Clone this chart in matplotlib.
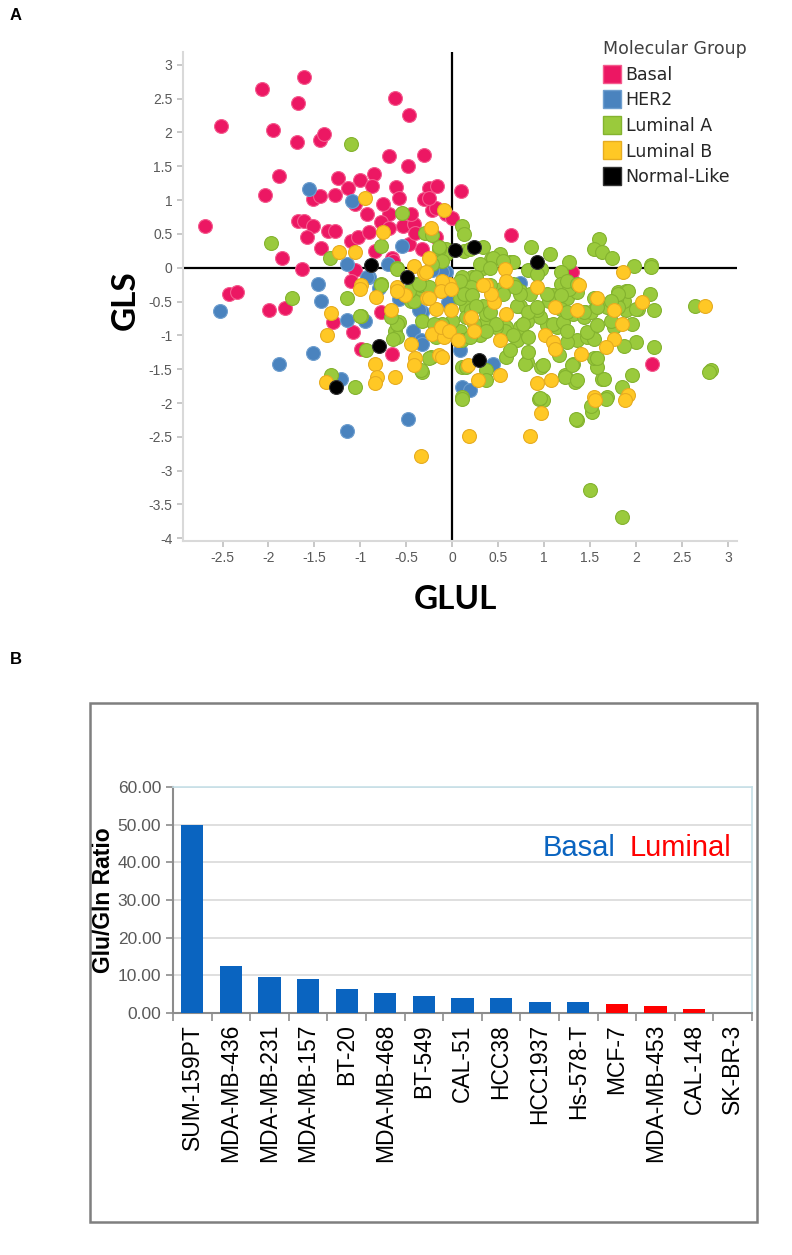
import numpy as np
import matplotlib.pyplot as plt
from matplotlib.lines import Line2D
from matplotlib.patches import Rectangle

plt.rcParams['font.family'] = ['Liberation Sans', 'DejaVu Sans']

# ---- Panel A: GLUL (x) vs GLS (y), one list of (x, y) per molecular group ----
basal = [(-2.69, 0.62), (-2.52, 2.10), (-2.07, 2.64), (-1.61, 2.82), (-1.68, 2.43), (-1.95, 2.03),
         (-1.69, 1.86), (-1.44, 1.89), (-1.40, 1.98), (-1.88, 1.35), (-2.04, 1.08), (-0.62, 2.51),
         (-0.47, 2.26), (-0.69, 1.65), (-0.48, 1.51), (-0.31, 1.67), (-1.24, 1.33), (-1.00, 1.30),
         (-0.85, 1.38), (-0.87, 1.21), (-0.61, 1.20), (-0.58, 1.03), (-1.13, 1.18), (-1.28, 1.08),
         (-1.51, 1.01), (-1.44, 1.06), (-1.06, 0.94), (-0.93, 0.79), (-0.69, 0.79), (-0.25, 1.18),
         (-0.16, 1.21), (-0.31, 1.01), (-0.22, 0.86), (0.10, 1.13), (-1.68, 0.69), (-1.61, 0.69),
         (-1.52, 0.62), (-1.58, 0.46), (-1.35, 0.54), (-1.28, 0.55), (-1.43, 0.29), (-1.10, 0.40),
         (-1.02, 0.45), (-0.91, 0.53), (-0.77, 0.67), (-0.69, 0.59), (-0.53, 0.62), (-0.42, 0.64),
         (-0.66, 0.15), (-0.84, 0.25), (-0.33, 0.28), (-1.85, 0.14), (-1.63, -0.02), (-0.47, 0.35),
         (-0.18, 0.45), (-0.07, 0.79), (0.00, 0.74), (-0.18, 0.89), (-0.25, 1.03), (-0.40, 0.52),
         (-1.06, -0.04), (-1.10, -0.19), (-2.43, -0.39), (-2.34, -0.36), (-1.99, -0.62), (-1.82, -0.60),
         (-0.78, -0.66), (-1.08, -0.95), (-1.30, -0.80), (-0.99, -1.20), (-0.66, -1.27), (-0.64, 0.10),
         (0.64, 0.49), (1.30, -0.07), (2.18, -1.42), (-0.75, 0.95), (-0.45, 0.80)]

her2 = [(-1.56, 1.17), (-1.09, 0.99), (-0.55, 0.32), (-1.14, 0.05), (-0.91, -0.14), (-0.07, -0.07),
        (-2.53, -0.64), (-1.88, -1.43), (-1.52, -1.26), (-1.46, -0.24), (-1.43, -0.49), (-1.15, -0.77),
        (-0.95, -0.78), (-0.93, -0.14), (-0.58, -0.46), (-0.43, -0.93), (-0.34, -1.07), (-1.21, -1.65),
        (-0.48, -2.24), (-1.15, -2.42), (-0.11, -0.07), (0.08, -1.22), (0.11, -1.76), (-0.33, -0.66),
        (0.74, -0.22), (0.44, -1.42), (0.19, -1.81), (-0.22, -0.04), (-0.36, -0.63), (-0.33, -1.12),
        (-0.80, -0.30), (-0.20, -0.35), (-0.05, -0.50), (-0.70, 0.05)]

lum_a = [(-1.10, 1.83), (-1.97, 0.36), (-0.55, 0.81), (-1.33, 0.15), (-0.77, 0.32), (-0.30, 0.52),
         (-0.22, 0.49), (-0.15, 0.15), (-0.07, 0.28), (0.11, 0.62), (0.13, 0.50), (0.13, 0.25),
         (0.19, 0.28), (0.33, 0.30), (0.52, 0.20), (0.42, 0.13), (0.86, 0.30), (1.07, 0.20),
         (1.27, 0.08), (1.60, 0.42), (1.54, 0.28), (1.63, 0.24), (1.74, 0.15), (1.98, 0.03),
         (2.16, 0.04), (0.63, 0.08), (0.44, 0.15), (0.33, 0.00), (0.66, 0.08), (0.55, 0.10),
         (0.83, -0.04), (0.97, -0.02), (1.18, -0.07), (0.22, -0.14), (0.30, -0.24), (0.92, -0.09),
         (0.30, 0.05), (0.41, 0.00), (0.11, -0.14), (0.26, -0.14), (0.21, -0.29), (0.33, -0.26),
         (0.44, -0.39), (0.53, -0.31), (0.66, -0.24), (0.74, -0.34), (0.85, -0.39), (0.74, -0.56),
         (0.90, -0.63), (1.05, -0.49), (1.18, -0.24), (1.25, -0.44), (1.36, -0.36), (1.27, -0.31),
         (1.45, -0.66), (1.56, -0.58), (1.80, -0.36), (1.89, -0.34), (1.89, -0.63), (1.87, -0.49),
         (2.02, -0.61), (2.15, -0.39), (2.20, -0.63), (1.96, -0.83), (1.76, -0.88), (1.69, -0.58),
         (2.64, -0.56), (2.82, -1.51), (2.79, -1.54), (2.20, -1.17), (1.96, -1.59), (1.85, -1.76),
         (1.69, -1.91), (1.36, -2.25), (1.52, -2.13), (1.63, -1.64), (1.58, -1.47), (1.54, -1.34),
         (1.36, -1.07), (1.47, -1.02), (1.54, -1.05), (1.25, -1.10), (1.14, -0.88), (1.03, -0.85),
         (0.96, -0.73), (0.92, -0.63), (0.81, -0.78), (0.74, -0.88), (0.59, -0.88), (1.32, -1.42),
         (1.23, -1.59), (1.34, -1.69), (0.97, -1.47), (0.81, -1.39), (0.99, -1.96), (0.59, -1.32),
         (0.37, -1.51), (0.11, -1.91), (0.11, -1.47), (-0.23, -1.32), (-0.33, -1.54), (0.70, -1.07),
         (0.57, -0.93), (0.48, -0.88), (0.37, -0.78), (0.24, -0.83), (0.15, -0.58), (0.08, -0.93),
         (0.00, -0.78), (-0.11, -0.83), (-0.18, -1.02), (1.10, -0.83), (1.21, -0.80), (1.32, -0.68),
         (1.43, -0.73), (1.51, -0.66), (1.54, -0.44), (1.25, -0.19), (1.36, -0.24), (1.10, -0.41),
         (1.18, -0.61), (2.16, 0.01), (1.91, -0.34), (1.78, -0.46), (2.00, -0.61), (2.00, -1.10),
         (1.87, -1.15), (1.65, -1.64), (1.50, -3.29), (1.85, -3.68), (0.95, -1.94), (1.67, -1.94),
         (-1.74, -0.44), (-1.14, -0.44), (-0.99, -0.72), (-1.32, -1.59), (-1.06, -1.77), (-0.94, -1.21),
         (-0.77, -0.24), (-0.60, 0.00), (-0.58, -0.80), (-0.62, -0.93), (-0.60, -1.02), (-0.34, -1.51),
         (-0.40, -0.24), (-0.34, -0.31), (-0.45, -0.49), (-0.33, -0.78), (-0.20, -0.83), (-0.18, 0.10),
         (-0.07, 0.20), (-0.14, 0.27), (0.08, -0.19), (0.08, -0.44), (0.15, -0.73), (-1.00, -0.71),
         (-0.64, -1.05), (-0.60, -0.83), (-0.67, -0.73), (-0.25, -1.34), (-0.42, -0.49), (-0.34, -0.26),
         (-0.47, -0.34), (-0.25, -0.29), (0.11, -1.07), (0.15, -1.47), (0.13, -0.39), (0.22, -0.41),
         (0.33, -0.56), (0.37, -0.68), (0.21, -0.63), (0.30, -1.00), (0.19, -1.02), (0.37, -1.66),
         (0.26, -0.56), (0.41, -0.66), (0.48, -0.83), (0.37, -0.93), (0.70, -0.56), (0.83, -0.66),
         (0.92, -0.58), (0.77, -0.83), (0.66, -1.00), (0.83, -1.02), (0.63, -1.22), (0.79, -1.42),
         (0.99, -1.44), (0.83, -1.25), (1.16, -1.29), (1.30, -1.44), (1.23, -1.61), (1.36, -1.66),
         (1.25, -0.93), (1.47, -0.95), (1.58, -0.85), (1.73, -0.78), (1.80, -0.58), (1.80, -0.39),
         (1.58, -1.34), (0.96, -1.93), (1.51, -2.05), (1.03, -0.39), (1.18, -0.41), (1.25, -0.66),
         (1.43, -0.66), (1.58, -0.58), (1.73, -0.49), (0.41, -0.26), (0.55, -0.39), (0.74, -0.39),
         (0.68, -0.29), (-0.60, -0.02), (-0.14, 0.30), (-0.11, 0.10), (-0.22, 0.05), (-0.36, -0.24),
         (-0.77, -0.26), (1.35, -2.24), (0.11, -1.94)]

lum_b = [(-0.95, 1.03), (-0.09, 0.86), (-0.75, 0.53), (-0.23, 0.59), (-1.23, 0.24), (-1.06, 0.24),
         (-0.42, 0.03), (-0.25, 0.15), (-0.31, -0.08), (-0.99, -0.26), (-0.60, -0.29), (-0.03, -0.24),
         (-0.11, -0.19), (-1.00, -0.31), (-1.32, -0.67), (-1.36, -0.99), (-0.83, -0.43), (-0.67, -0.63),
         (-1.37, -1.69), (-0.84, -1.42), (-0.82, -1.61), (-0.84, -1.71), (-0.62, -1.61), (-0.45, -1.12),
         (-0.40, -1.34), (-0.42, -1.44), (-0.18, -0.61), (-0.01, -0.63), (-0.12, -0.34), (-0.01, -0.31),
         (-0.22, -0.98), (-0.09, -1.02), (-0.14, -1.29), (-0.51, -0.41), (-0.60, -0.34), (-0.27, -0.44),
         (-0.12, -0.88), (-0.03, -0.93), (0.06, -1.07), (0.19, -0.75), (0.24, -0.93), (0.17, -1.44),
         (0.28, -1.66), (0.37, -0.26), (-0.29, -0.07), (-0.25, -0.44), (0.57, -0.02), (0.59, -0.19),
         (0.46, -0.51), (0.21, -0.73), (0.59, -0.68), (0.52, -1.07), (0.92, -0.29), (1.12, -0.58),
         (1.01, -1.00), (1.10, -1.10), (1.12, -1.20), (1.38, -0.26), (1.58, -0.44), (1.36, -0.63),
         (1.76, -1.05), (1.67, -1.17), (1.40, -1.27), (0.52, -1.59), (0.92, -1.71), (1.08, -1.66),
         (0.97, -2.15), (1.54, -1.91), (1.91, -1.88), (1.86, -0.07), (2.07, -0.51), (2.75, -0.56),
         (-0.11, -1.32), (0.42, -0.39), (0.33, -0.26), (1.76, -0.63), (1.85, -0.83), (-0.34, -2.78),
         (0.18, -2.49), (0.85, -2.49), (1.55, -1.95), (1.88, -1.95)]

normal_like = [(-0.88, 0.04), (0.03, 0.26), (-0.80, -1.16), (-1.27, -1.77), (-0.49, -0.14),
               (0.24, 0.30), (0.92, 0.09), (0.29, -1.37)]

group_names = ["Basal", "HER2", "Luminal A", "Luminal B", "Normal-Like"]
face_colors = ["#EC1763", "#4A83BE", "#9ACA3C", "#FFC825", "#000000"]
edge_colors = ["#F45C8E", "#6F9FCF", "#84B32F", "#E6AC20", "#333333"]

# ---- Panel B: Glu/Gln ratio per cell line ----
cell_lines = ["SUM-159PT", "MDA-MB-436", "MDA-MB-231", "MDA-MB-157", "BT-20", "MDA-MB-468",
              "BT-549", "CAL-51", "HCC38", "HCC1937", "Hs-578-T", "MCF-7", "MDA-MB-453",
              "CAL-148", "SK-BR-3"]
glu_gln = [50.0, 12.6, 9.6, 9.1, 6.4, 5.3, 4.6, 3.9, 3.9, 3.0, 2.8, 2.5, 1.8, 0.95, 0.05]
subtype = ["Basal", "Basal", "Basal", "Basal", "Basal", "Basal", "Basal", "Basal", "Basal",
           "Basal", "Basal", "Luminal", "Luminal", "Luminal", "Luminal"]
subtype_colors = {"Basal": "#0A64C0", "Luminal": "#FF0000"}

W, H = 792, 1255
fig = plt.figure(figsize=(W / 100, H / 100), dpi=100)

# ---------------- Panel A ----------------
axA = fig.add_axes([183 / W, 1 - 541 / H, (737 - 183) / W, (541 - 52) / H])
series = [basal, her2, lum_a, lum_b, normal_like]
for i, pts in enumerate(series):
    arr = np.array(pts)
    axA.scatter(arr[:, 0], arr[:, 1], s=100, c=face_colors[i], edgecolors=edge_colors[i],
                linewidths=0.8, zorder=3 + i)

axA.axhline(0, color="black", lw=1.6, zorder=2)
axA.axvline(0, color="black", lw=1.6, zorder=2)
axA.set_xlim(-2.93, 3.10)
axA.set_ylim(-4.04, 3.19)

xt = np.arange(-2.5, 3.01, 0.5)
yt = np.arange(-4, 3.01, 0.5)
axA.set_xticks(xt)
axA.set_xticklabels([f"{v:g}" for v in xt])
axA.set_yticks(yt)
axA.set_yticklabels([f"{v:g}" for v in yt])
for side in ["top", "right"]:
    axA.spines[side].set_visible(False)
for side in ["left", "bottom"]:
    axA.spines[side].set_color("#D9D9D9")
    axA.spines[side].set_linewidth(1.5)
axA.tick_params(colors="#BFBFBF", labelcolor="#595959", labelsize=10, length=4, width=1.2)
for lab in axA.get_xticklabels() + axA.get_yticklabels():
    lab.set_family(["Liberation Sans Narrow", "Liberation Sans"])

axA.set_xlabel("GLUL", fontsize=24, fontweight="bold", family=["Lato", "DejaVu Sans"])
axA.set_ylabel("GLS", fontsize=24, fontweight="bold", family=["Lato", "DejaVu Sans"])
axA.xaxis.set_label_coords(0.491, -0.09)
axA.yaxis.set_label_coords(-0.078, 0.493)

handles = [Line2D([], [], ls="", marker="s", markersize=13.5, markerfacecolor=face_colors[i],
                  markeredgecolor=edge_colors[i], markeredgewidth=1.0) for i in range(5)]
leg = axA.legend(handles, group_names, title="Molecular Group", loc="upper left",
                 bbox_to_anchor=(603 / W, 1 - 40 / H), bbox_transform=fig.transFigure,
                 frameon=False, prop={"family": "DejaVu Sans", "size": 12.5},
                 title_fontproperties={"family": "DejaVu Sans", "size": 12.5},
                 handlelength=1.0, handletextpad=0.3, labelspacing=0.44, borderpad=0,
                 borderaxespad=0, alignment="left")
leg.get_title().set_color("#404040")
for t in leg.get_texts():
    t.set_color("#262626")

fig.text(10 / W, 1 - 16 / H, "A", fontsize=12, fontweight="bold", va="center")

# ---------------- Panel B ----------------
fig.patches.append(Rectangle((90 / W, 1 - 1222 / H), (757 - 90) / W, (1222 - 703) / H,
                             transform=fig.transFigure, fill=False, ec="#7F7F7F", lw=1.8))
fig.text(10 / W, 1 - 660 / H, "B", fontsize=12, fontweight="bold", va="center")

axB = fig.add_axes([173 / W, 1 - 1013 / H, (752 - 173) / W, (1013 - 787) / H])
xpos = np.arange(len(cell_lines))
axB.bar(xpos, glu_gln, width=0.57, color=[subtype_colors[s] for s in subtype], zorder=3)
axB.set_xlim(-0.5, len(cell_lines) - 0.5)
axB.set_ylim(0, 60)
ticks_b = np.arange(0, 61, 10)
axB.set_yticks(ticks_b)
axB.set_yticklabels([f"{v:.2f}" for v in ticks_b])
axB.yaxis.grid(True, color="#D9D9D9", lw=1.2)
axB.set_axisbelow(True)
axB.set_xticks(xpos)
axB.set_xticklabels(cell_lines, rotation=90, fontsize=16.5)
axB.set_xticks(np.arange(-0.5, len(cell_lines), 1.0), minor=True)
axB.tick_params(axis="x", which="major", length=0, pad=8)
axB.tick_params(axis="x", which="minor", length=6, color="#8C8C8C", width=1.2)
axB.tick_params(axis="y", length=5, color="#8C8C8C", width=1.2, labelsize=12.5,
                labelcolor="#595959")
for lab in axB.get_yticklabels():
    lab.set_family(["Liberation Sans Narrow", "Liberation Sans"])
for side in ["top", "right"]:
    axB.spines[side].set_color("#C6E0E8")
    axB.spines[side].set_linewidth(1.2)
for side in ["left", "bottom"]:
    axB.spines[side].set_color("#8C8C8C")
    axB.spines[side].set_linewidth(1.5)
axB.set_ylabel("Glu/Gln Ratio", fontsize=16.5, fontweight="bold")
axB.yaxis.set_label_coords(-0.1, 0.5)

axB.text(9.07, 43.8, "Basal", color=subtype_colors["Basal"], fontsize=21, ha="left", va="center")
axB.text(11.32, 43.8, "Luminal", color=subtype_colors["Luminal"], fontsize=21, ha="left", va="center")

fig.savefig("out.png", dpi=100)
